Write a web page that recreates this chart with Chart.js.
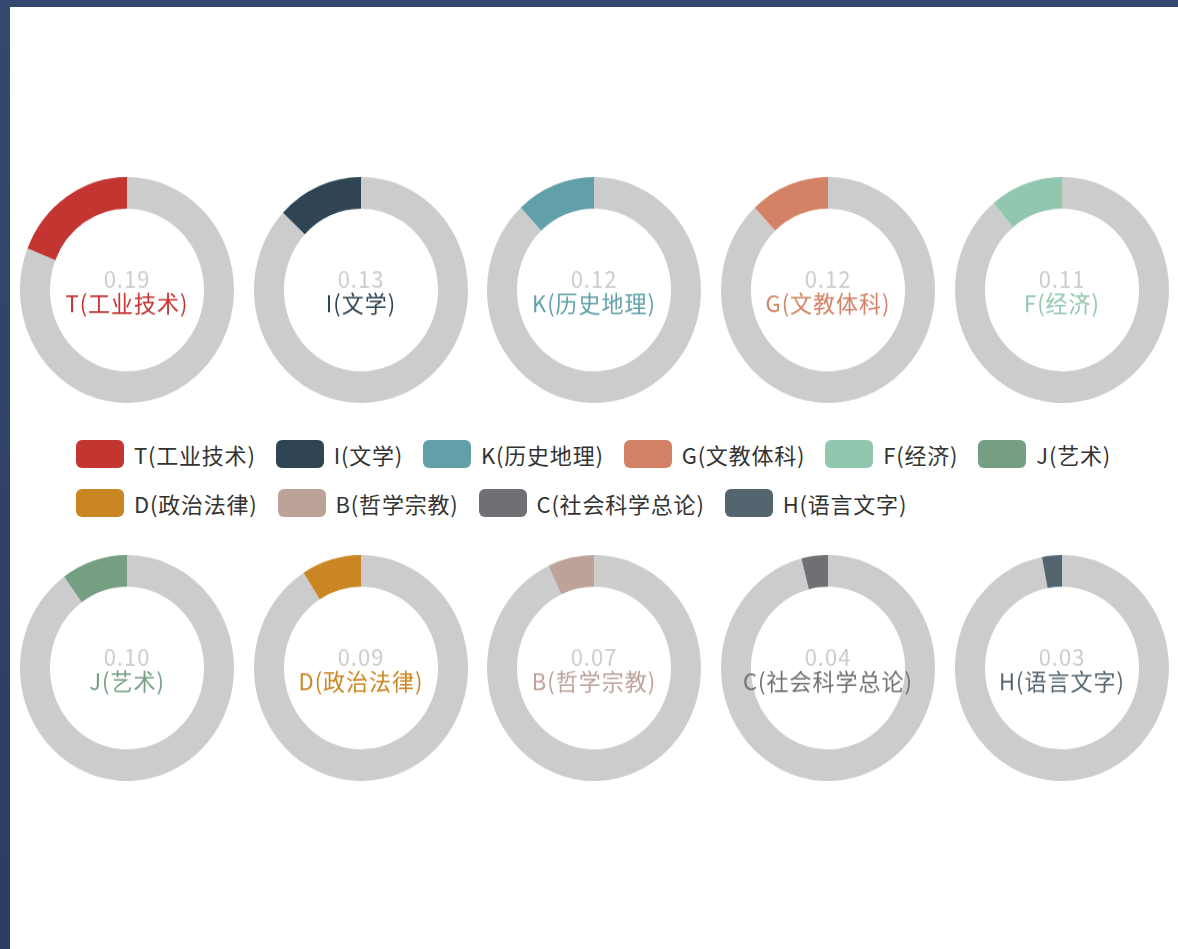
<!DOCTYPE html>
<html>
<head>
<meta charset="utf-8">
<script src="https://cdn.jsdelivr.net/npm/chart.js@4"></script>
<style>
  html, body { margin: 0; padding: 0; }
  body {
    width: 1178px; height: 949px; overflow: hidden;
    background: linear-gradient(180deg, #34486f 0%, #2c3d64 100%);
    font-family: "Microsoft YaHei", "Noto Sans CJK SC", sans-serif;
  }
  #panel { position: absolute; left: 10px; top: 7px; right: 0; bottom: 0; background: #fff; }
  .donut { position: absolute; width: 214px; height: 214px; transform: scaleY(1.056); transform-origin: 50% 50%; }
  .legend-row { position: absolute; left: 66px; display: flex; align-items: center; white-space: nowrap; }
  .legend-item { display: flex; align-items: center; margin-right: 20px; font-size: 22px; letter-spacing: 0.8px; color: #333; }
  .legend-icon { width: 48px; height: 28px; border-radius: 6px; margin-right: 10px; }
</style>
</head>
<body>
<div id="panel"></div>
<script>
const categories = ["T(工业技术)", "I(文学)", "K(历史地理)", "G(文教体科)", "F(经济)",
  "J(艺术)", "D(政治法律)", "B(哲学宗教)", "C(社会科学总论)", "H(语言文字)"];
const shares = [0.19, 0.13, 0.12, 0.12, 0.11, 0.10, 0.09, 0.07, 0.04, 0.03];
const colors = ["#c23531", "#2f4554", "#61a0a8", "#d48265", "#91c7ae",
  "#749f83", "#ca8622", "#bda29a", "#6e7074", "#546570"];
const restColor = "#cccccc";

const panel = document.getElementById("panel");
const centersX = [117, 351, 584, 818, 1052];   // inside panel
const centersY = [283, 661];

// text in the hole of each ring
const centerLabel = {
  id: "centerLabel",
  afterDraw(chart, args, opts) {
    const { ctx, chartArea } = chart;
    const cx = (chartArea.left + chartArea.right) / 2;
    const cy = (chartArea.top + chartArea.bottom) / 2;
    ctx.save();
    ctx.textAlign = "center";
    ctx.textBaseline = "middle";
    ctx.font = '22px "Microsoft YaHei", "Noto Sans CJK SC", sans-serif';
    ctx.letterSpacing = "1px";
    ctx.fillStyle = restColor;
    ctx.fillText(opts.value.toFixed(2), cx, cy - 10.5);
    ctx.fillStyle = opts.color;
    ctx.fillText(opts.name, cx, cy + 12.5);
    ctx.restore();
  }
};

categories.forEach((name, i) => {
  const box = document.createElement("div");
  box.className = "donut";
  box.style.left = (centersX[i % 5] - 107) + "px";
  box.style.top = (centersY[Math.floor(i / 5)] - 107) + "px";
  const cnv = document.createElement("canvas");
  box.appendChild(cnv);
  panel.appendChild(box);
  new Chart(cnv, {
    type: "doughnut",
    data: {
      labels: ["其他", name],
      datasets: [{
        data: [1 - shares[i], shares[i]],
        backgroundColor: [restColor, colors[i]],
        borderWidth: 0,
        hoverOffset: 0
      }]
    },
    options: {
      responsive: true,
      maintainAspectRatio: false,
      animation: false,
      cutout: "72%",
      layout: { padding: 0 },
      events: [],
      plugins: {
        legend: { display: false },
        tooltip: { enabled: false },
        centerLabel: { value: shares[i], name: name, color: colors[i] }
      }
    },
    plugins: [centerLabel]
  });
});

// legend, two rows like the original
const rows = [categories.slice(0, 6), categories.slice(6)];
const rowTops = [431, 480];
rows.forEach((row, r) => {
  const div = document.createElement("div");
  div.className = "legend-row";
  div.style.top = rowTops[r] + "px";
  row.forEach(name => {
    const i = categories.indexOf(name);
    const item = document.createElement("div");
    item.className = "legend-item";
    const icon = document.createElement("div");
    icon.className = "legend-icon";
    icon.style.background = colors[i];
    const txt = document.createElement("span");
    txt.textContent = name;
    item.appendChild(icon);
    item.appendChild(txt);
    div.appendChild(item);
  });
  panel.appendChild(div);
});
</script>
</body>
</html>
